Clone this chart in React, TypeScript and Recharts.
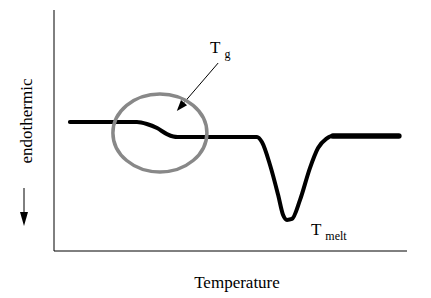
import { LineChart, Line, XAxis, YAxis, ReferenceDot, ReferenceLine } from 'recharts';

// DSC trace: temperature (arbitrary units) vs heat flow (arbitrary units)
const temperature = [4.5, 23.5, 26.3, 29.2, 32.0, 33.8, 35.0, 57.5, 58.9, 61.2, 63.5, 64.9, 66.0, 67.4, 69.7, 72.5, 74.8, 77.1, 79.0, 97.7];
const heatFlow = [53.5, 53.5, 52.7, 51.0, 48.5, 47.5, 47.3, 47.3, 45.2, 35.7, 23.2, 14.9, 12.9, 13.3, 21.2, 34.4, 42.7, 46.5, 47.7, 47.7];
// the flat tail after the melt is drawn a bit heavier in the original
const tailStart = 79.0;

const glassCenter = { t: 30.0, h: 49.0 };
const tgArrow = [{ x: 46.5, y: 78.0 }, { x: 34.8, y: 58.1 }];
const tgLabel = { t: 44.2, h: 82.2, main: 'T', sub: 'g' };
const meltLabel = { t: 72.8, h: 6.6, main: 'T', sub: 'melt' };

const FONT = '"Liberation Serif", "Times New Roman", serif';

const data = temperature.map((t, i) => ({
  t,
  h: heatFlow[i],
  tail: t >= tailStart ? heatFlow[i] : null,
}));

function ArrowShape(props: any) {
  const { x1, y1, x2, y2 } = props;
  const ang = Math.atan2(y2 - y1, x2 - x1);
  const len = 11;
  const w = 4;
  const bx = x2 - len * Math.cos(ang);
  const by = y2 - len * Math.sin(ang);
  const px = -Math.sin(ang) * w;
  const py = Math.cos(ang) * w;
  return (
    <g>
      <line x1={x1} y1={y1} x2={bx} y2={by} stroke="#000" strokeWidth={1} />
      <polygon points={`${x2},${y2} ${bx + px},${by + py} ${bx - px},${by - py}`} fill="#000" />
    </g>
  );
}

function subLabel(main: string, sub: string) {
  return (props: any) => (
    <text x={props.cx} y={props.cy} fontFamily={FONT} fill="#000">
      <tspan fontSize={17}>{main}</tspan>
      <tspan fontSize={12} dx={4} dy={5}>{sub}</tspan>
    </text>
  );
}

function YLabel(props: any) {
  const { viewBox } = props;
  const x = viewBox.x + viewBox.width - 22;
  const cy = 121;
  return (
    <g>
      <text
        x={x}
        y={cy}
        transform={`rotate(-90 ${x} ${cy})`}
        textAnchor="middle"
        fontFamily={FONT}
        fontSize={17}
        fill="#000"
      >
        endothermic
      </text>
      <line x1={x - 8} y1={188} x2={x - 8} y2={214} stroke="#000" strokeWidth={1} />
      <polygon points={`${x - 8},${226} ${x - 12},${212} ${x - 4},${212}`} fill="#000" />
    </g>
  );
}

function XLabel(props: any) {
  const { viewBox } = props;
  return (
    <text
      x={237}
      y={viewBox.y + 37}
      textAnchor="middle"
      fontFamily={FONT}
      fontSize={17}
      fill="#000"
    >
      Temperature
    </text>
  );
}

export default function App() {
  return (
    <div style={{ position: 'fixed', left: 0, top: 0, background: '#fff' }}>
      <LineChart width={431} height={298} data={data} margin={{ top: 10, right: 24, left: 53, bottom: 46 }}>
        <XAxis
          dataKey="t"
          type="number"
          domain={[0, 100]}
          tick={false}
          tickLine={false}
          height={1}
          axisLine={{ stroke: '#000', strokeWidth: 1 }}
          label={{ content: XLabel }}
        />
        <YAxis
          type="number"
          domain={[0, 100]}
          tick={false}
          tickLine={false}
          width={1}
          axisLine={{ stroke: '#000', strokeWidth: 1 }}
          label={{ content: YLabel }}
        />
        <ReferenceDot
          x={glassCenter.t}
          y={glassCenter.h}
          shape={(p: any) => (
            <ellipse cx={p.cx} cy={p.cy} rx={47} ry={39} fill="none" stroke="#888" strokeWidth={3.5} />
          )}
        />
        <Line
          dataKey="h"
          type="monotone"
          stroke="#000"
          strokeWidth={4}
          dot={false}
          activeDot={false}
          strokeLinecap="round"
          strokeLinejoin="round"
          isAnimationActive={false}
        />
        <Line
          dataKey="tail"
          type="linear"
          stroke="#000"
          strokeWidth={5.5}
          dot={false}
          activeDot={false}
          strokeLinecap="round"
          isAnimationActive={false}
        />
        <ReferenceLine segment={tgArrow} shape={ArrowShape} ifOverflow="visible" />
        <ReferenceDot x={tgLabel.t} y={tgLabel.h} shape={subLabel(tgLabel.main, tgLabel.sub)} />
        <ReferenceDot x={meltLabel.t} y={meltLabel.h} shape={subLabel(meltLabel.main, meltLabel.sub)} />
      </LineChart>
    </div>
  );
}
